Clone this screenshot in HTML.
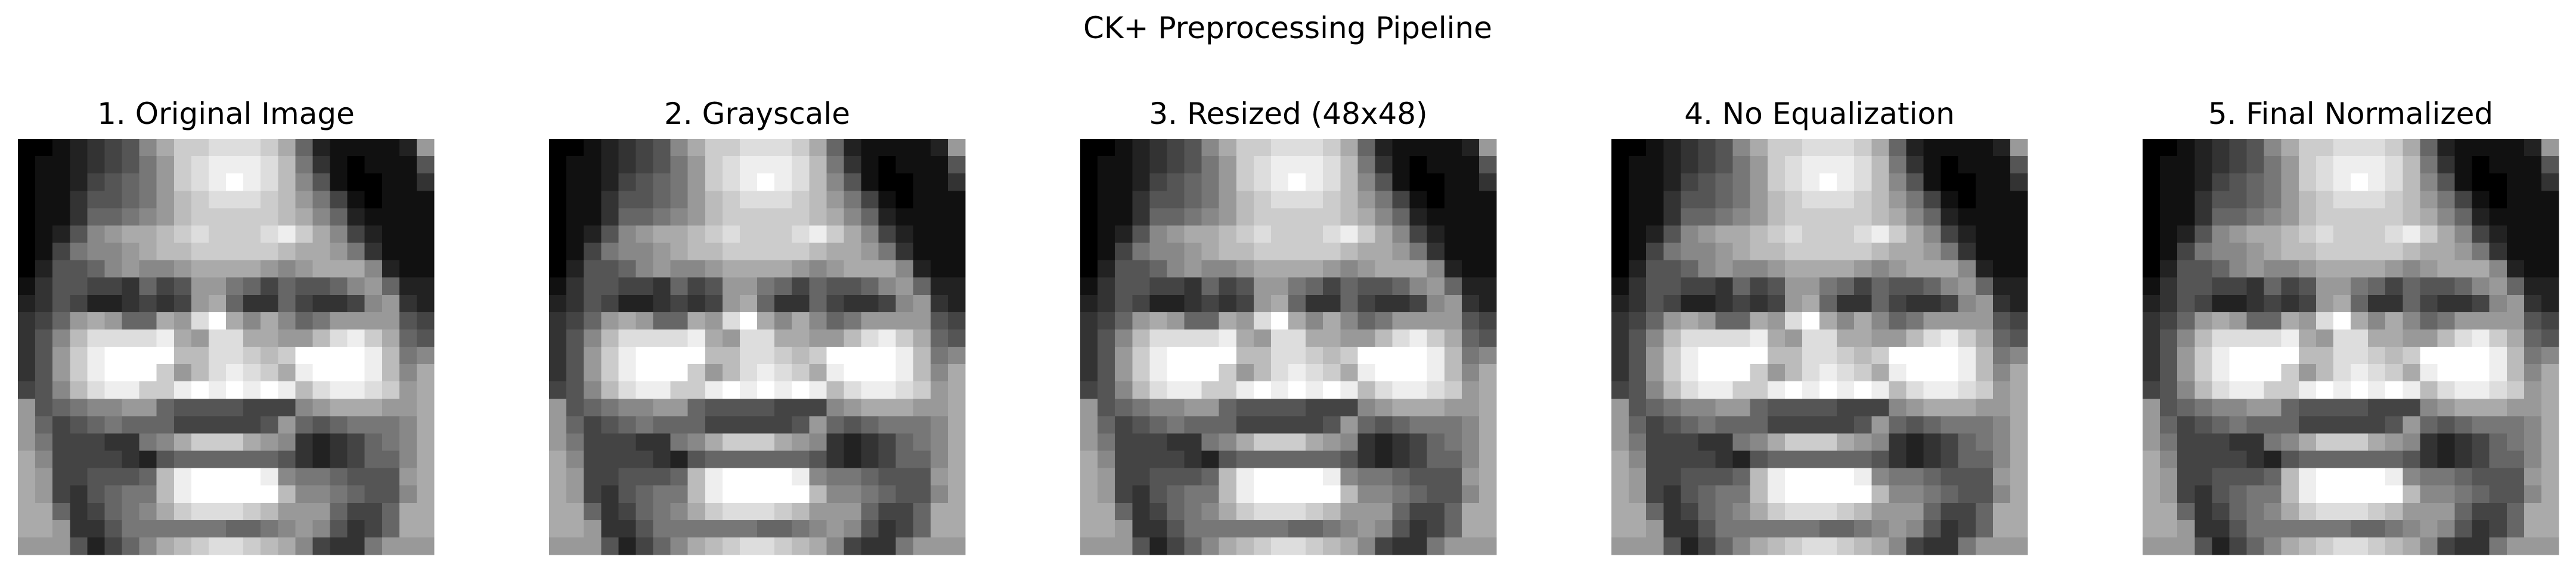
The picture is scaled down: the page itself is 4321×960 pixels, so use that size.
<!DOCTYPE html>
<html><head><meta charset="utf-8">
<style>
html,body{margin:0;padding:0;background:#fff;}
svg{display:block;}
text{font-family:"DejaVu Sans","Liberation Sans",sans-serif;fill:#000;}
</style></head>
<body>
<svg id="fig" width="4321" height="960" viewBox="0 0 4321 960" xmlns="http://www.w3.org/2000/svg">
<text x="2160" y="64" font-size="50" text-anchor="middle">CK+ Preprocessing Pipeline</text>
</svg>
<script>
const titles=["1. Original Image","2. Grayscale","3. Resized (48x48)","4. No Equalization","5. Final Normalized"];
const lefts=[30,921,1812,2703,3594];
const rows=[
"00123458accdddca62111129","011234579cdeeedb73101115","011245679cdefedb85100113","011355679bcdddcb97410111",
"011366789bcccccba8621111","012589aabcdcccdeca842111","0147889abbcccccbaa973111","0255689889aaaa989aaa8211",
"135544364599764655689622","23542234349a633643348932","3469a966a9dfa8a867999954","358bddddea9ddaa99bdeca65",
"359ceffffbbddcbcffffeb78","359cefffc9bdedcaefffeb8a","458bdeeccefefefebdeedc9a","956788996555544489aaa99a",
"96456766644444596567778a","974443378accca983234678a","a8444432566666653234668a","a9445556beffffe87765559a",
"a9435677befffffb8876558a","aa634678acdddcb9996446aa","aa93357777776678985346aa","99952468abcddcba84337999"];
const NS="http://www.w3.org/2000/svg";
const fig=document.getElementById('fig');
const size=698, top0=233, n=rows.length, cs=size/n;
titles.forEach((t,k)=>{
  const g=document.createElementNS(NS,'g');
  
  
  const tx=document.createElementNS(NS,'text');
  
  
  tx.setAttribute('x',lefts[k]+size/2);tx.setAttribute('y',208);
  tx.setAttribute('font-size','50');tx.setAttribute('text-anchor','middle');
  tx.textContent=t;g.appendChild(tx);
  const im=document.createElementNS(NS,'g');
  
  
  im.setAttribute('shape-rendering','crispEdges');
  rows.forEach((r,i)=>{for(let j=0;j<r.length;j++){
    const v=parseInt(r[j],16)*17;
    const c=document.createElementNS(NS,'rect');
    c.setAttribute('x',(lefts[k]+j*cs).toFixed(2));c.setAttribute('y',(top0+i*cs).toFixed(2));
    c.setAttribute('width',(cs+0.6).toFixed(2));c.setAttribute('height',(cs+0.6).toFixed(2));
    c.setAttribute('fill','rgb('+v+','+v+','+v+')');
    im.appendChild(c);
  }});
  g.appendChild(im);fig.appendChild(g);
});
</script>
</body></html>
